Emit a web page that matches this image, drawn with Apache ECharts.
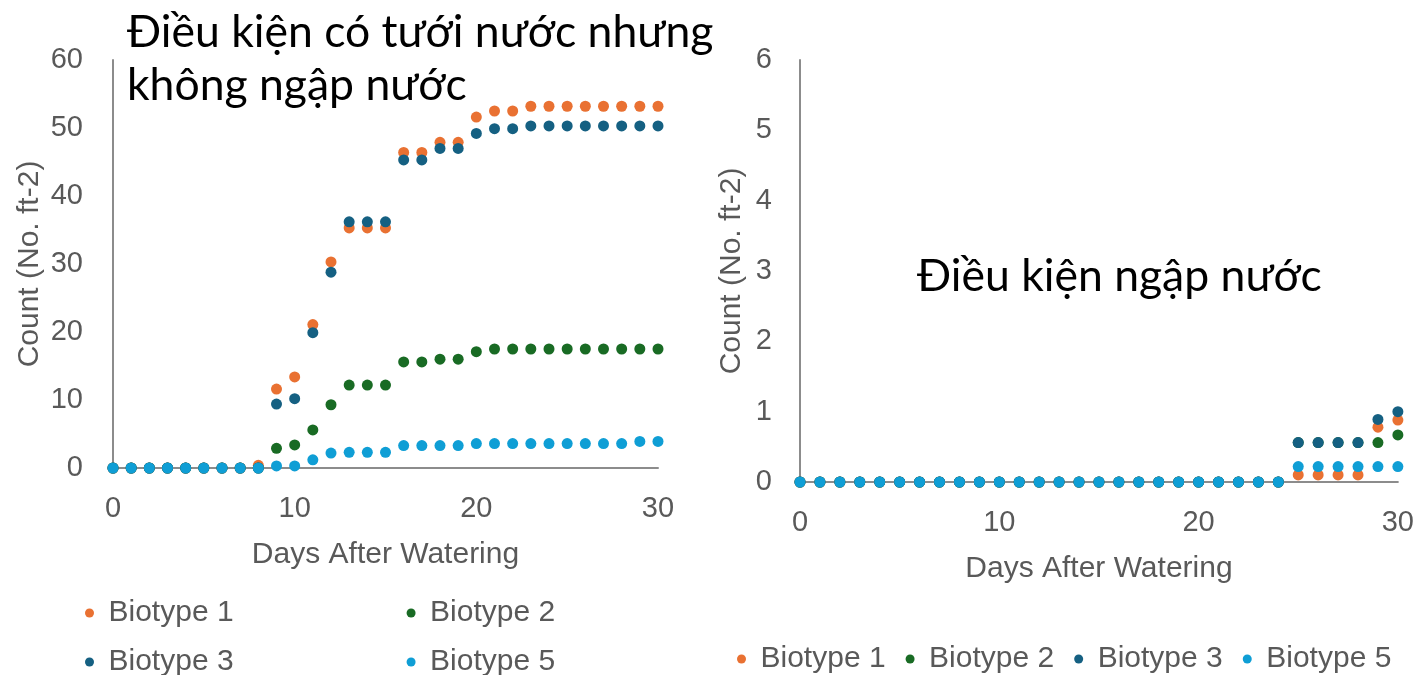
<!DOCTYPE html>
<html>
<head>
<meta charset="utf-8">
<script src="https://cdn.jsdelivr.net/npm/echarts@6/dist/echarts.min.js"></script>
<style>
html,body{margin:0;padding:0;background:#fff;}
#chart{width:1417px;height:675px;}
</style>
</head>
<body>
<div id="chart"></div>
<script>
// ---- Data ----
const days = Array.from({length: 31}, (_, i) => i);
const seriesNames = ['Biotype 1', 'Biotype 2', 'Biotype 3', 'Biotype 5'];
const seriesColors = ['#E97132', '#196B24', '#156082', '#0F9ED5'];

// Left chart: irrigated but not flooded
const leftB1 = [0,0,0,0,0,0,0,0,0.4,11.6,13.4,21.1,30.3,35.3,35.3,35.3,46.4,46.4,47.9,47.9,51.6,52.5,52.5,53.2,53.2,53.2,53.2,53.2,53.2,53.2,53.2];
const leftB2 = [0,0,0,0,0,0,0,0,0,2.9,3.4,5.6,9.3,12.2,12.2,12.2,15.6,15.6,16.0,16.0,17.1,17.5,17.5,17.5,17.5,17.5,17.5,17.5,17.5,17.5,17.5];
const leftB3 = [0,0,0,0,0,0,0,0,0,9.4,10.2,19.9,28.8,36.2,36.2,36.2,45.3,45.3,47.0,47.0,49.2,49.9,49.9,50.3,50.3,50.3,50.3,50.3,50.3,50.3,50.3];
const leftB5 = [0,0,0,0,0,0,0,0,0,0.3,0.3,1.2,2.2,2.3,2.3,2.3,3.3,3.3,3.3,3.3,3.6,3.6,3.6,3.6,3.6,3.6,3.6,3.6,3.6,3.9,3.9];

// Right chart: flooded
const rightB1 = [0,0,0,0,0,0,0,0,0,0,0,0,0,0,0,0,0,0,0,0,0,0,0,0,0,0.1,0.1,0.1,0.1,0.78,0.88];
const rightB2 = [0,0,0,0,0,0,0,0,0,0,0,0,0,0,0,0,0,0,0,0,0,0,0,0,0,0.56,0.56,0.56,0.56,0.56,0.67];
const rightB3 = [0,0,0,0,0,0,0,0,0,0,0,0,0,0,0,0,0,0,0,0,0,0,0,0,0,0.56,0.56,0.56,0.56,0.89,1.0];
const rightB5 = [0,0,0,0,0,0,0,0,0,0,0,0,0,0,0,0,0,0,0,0,0,0,0,0,0,0.22,0.22,0.22,0.22,0.22,0.22];

const leftTitle = 'Điều kiện có tưới nước nhưng\nkhông ngập nước';
const rightTitle = 'Điều kiện ngập nước';
const xName = 'Days After Watering';
const yName = 'Count (No. ft-2)';

// ---- Styling ----
const txtColor = '#595959';
const axFont = 'Liberation Sans, Arial, sans-serif';
const tickSize = 29;
const nameSize = 30;
const lineColor = '#8c8c8c';

function pairs(vals) { return days.map((d, i) => [d, vals[i]]); }

function mkSeries(idx, vals, gi) {
  return {
    type: 'scatter', name: seriesNames[idx], xAxisIndex: gi, yAxisIndex: gi,
    data: pairs(vals), symbol: 'circle', symbolSize: 11,
    itemStyle: { color: seriesColors[idx], opacity: 1 },
    emphasis: { disabled: true }, silent: true
  };
}

function xAxis(gi) {
  return {
    type: 'value', gridIndex: gi, min: 0, max: 30, interval: 10,
    name: xName, nameLocation: 'middle', nameGap: 72,
    nameTextStyle: { color: txtColor, fontSize: nameSize, fontFamily: axFont },
    axisLine: { show: true, lineStyle: { color: lineColor, width: 2 } },
    axisTick: { show: false }, splitLine: { show: false },
    axisLabel: { color: txtColor, fontSize: tickSize, fontFamily: axFont, margin: 26 }
  };
}
function yAxis(gi, max, interval, gap, margin) {
  return {
    type: 'value', gridIndex: gi, min: 0, max: max, interval: interval,
    name: yName, nameLocation: 'middle', nameGap: gap,
    nameTextStyle: { color: txtColor, fontSize: nameSize, fontFamily: axFont },
    axisLine: { show: true, lineStyle: { color: lineColor, width: 2 } },
    axisTick: { show: false }, splitLine: { show: false },
    axisLabel: { color: txtColor, fontSize: tickSize, fontFamily: axFont, margin: margin }
  };
}

const legendBase = {
  icon: 'circle', itemWidth: 28, itemHeight: 9, symbolKeepAspect: true,
  textStyle: { color: txtColor, fontSize: nameSize, fontFamily: axFont },
  selectedMode: false, orient: 'horizontal', padding: 0
};

const option = {
  animation: false,
  backgroundColor: '#ffffff',
  title: [
    { text: leftTitle, left: 127, top: 6, padding: 0,
      textStyle: { fontFamily: 'Lato, sans-serif', fontWeight: 'normal', fontSize: 44.5, color: '#000', lineHeight: 53 } },
    { text: rightTitle, left: 917, top: 250, padding: 0,
      textStyle: { fontFamily: 'Lato, sans-serif', fontWeight: 'normal', fontSize: 44.5, color: '#000', lineHeight: 53 } }
  ],
  grid: [
    { left: 113, right: 759, top: 60, bottom: 207, containLabel: false },
    { left: 800, right: 18, top: 60, bottom: 193, containLabel: false }
  ],
  xAxis: [xAxis(0), xAxis(1)],
  yAxis: [yAxis(0, 60, 10, 68, 30), yAxis(1, 6, 1, 53, 28)],
  legend: [
    Object.assign({}, legendBase, { data: ['Biotype 1', 'Biotype 2'], left: 85, top: 598, itemGap: 173 }),
    Object.assign({}, legendBase, { data: ['Biotype 3', 'Biotype 5'], left: 85, top: 647, itemGap: 173 }),
    Object.assign({}, legendBase, { data: seriesNames, left: 737, top: 644, itemGap: 20 })
  ],
  series: [
    mkSeries(0, leftB1, 0), mkSeries(1, leftB2, 0), mkSeries(2, leftB3, 0), mkSeries(3, leftB5, 0),
    mkSeries(0, rightB1, 1), mkSeries(1, rightB2, 1), mkSeries(2, rightB3, 1), mkSeries(3, rightB5, 1)
  ]
};

const chart = echarts.init(document.getElementById('chart'), null, { renderer: 'canvas' });
chart.setOption(option);
</script>
</body>
</html>
